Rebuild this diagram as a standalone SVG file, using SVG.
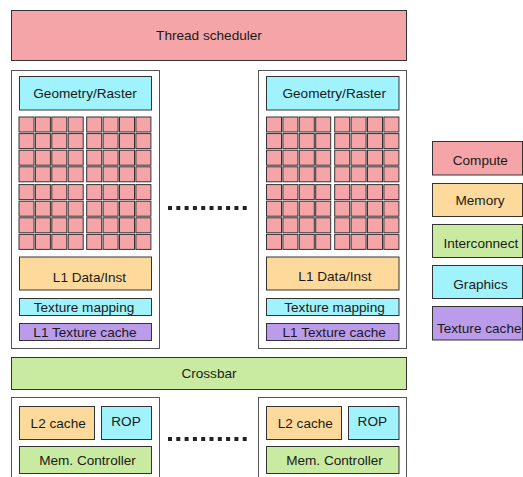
<svg xmlns="http://www.w3.org/2000/svg" xmlns:xlink="http://www.w3.org/1999/xlink" width="523" height="477" viewBox="0 0 523 477">
<style>
  text { font-family: "Liberation Sans", Arial, Helvetica, sans-serif; font-size: 13.6px; fill: #1a1a1a; text-anchor: middle; }
  rect { stroke: #333; stroke-width: 1; }
  .compute { fill: #F5A5A7; }
  .memory { fill: #FDDA9C; }
  .inter { fill: #C9EBA1; }
  .graphics { fill: #A0F3FC; }
  .texc { fill: #BA9CEB; }
  .outer { fill: #ffffff; stroke: #555; }
  .core { fill: #F5A5A7; stroke: #333; stroke-width: 1; }
  .dots { fill: none; stroke: #222; stroke-width: 4; stroke-dasharray: 4 4.3; }
</style>
<defs>
  <g id="quad">
    <rect class="core" x="0" y="0" width="15" height="15"/>
    <rect class="core" x="16.4" y="0" width="15" height="15"/>
    <rect class="core" x="32.8" y="0" width="15" height="15"/>
    <rect class="core" x="49.2" y="0" width="15" height="15"/>
    <rect class="core" x="0" y="16.6" width="15" height="15"/>
    <rect class="core" x="16.4" y="16.6" width="15" height="15"/>
    <rect class="core" x="32.8" y="16.6" width="15" height="15"/>
    <rect class="core" x="49.2" y="16.6" width="15" height="15"/>
    <rect class="core" x="0" y="33.2" width="15" height="15"/>
    <rect class="core" x="16.4" y="33.2" width="15" height="15"/>
    <rect class="core" x="32.8" y="33.2" width="15" height="15"/>
    <rect class="core" x="49.2" y="33.2" width="15" height="15"/>
    <rect class="core" x="0" y="49.8" width="15" height="15"/>
    <rect class="core" x="16.4" y="49.8" width="15" height="15"/>
    <rect class="core" x="32.8" y="49.8" width="15" height="15"/>
    <rect class="core" x="49.2" y="49.8" width="15" height="15"/>
  </g>
</defs>

<g id="thread-scheduler">
  <rect class="compute" x="11.5" y="10.5" width="395" height="50"/>
  <text x="209" y="39.8">Thread scheduler</text>
</g>

<g id="sm-left">
  <rect class="outer" x="11.5" y="70.5" width="148" height="278"/>
  <g id="geom-left">
    <rect class="graphics" x="19.5" y="76.5" width="132" height="33.5"/>
    <text x="85" y="97.8">Geometry/Raster</text>
  </g>
  <g id="cores-left">
    <use xlink:href="#quad" x="19" y="117"/>
    <use xlink:href="#quad" x="86.7" y="117"/>
    <use xlink:href="#quad" x="19" y="184.6"/>
    <use xlink:href="#quad" x="86.7" y="184.6"/>
  </g>
  <g id="l1-left">
    <rect class="memory" x="19.5" y="257" width="132" height="33"/>
    <text x="89.5" y="281.5">L1 Data/Inst</text>
  </g>
  <g id="texmap-left">
    <rect class="graphics" x="19.5" y="298.5" width="132" height="17"/>
    <text x="84" y="311.5">Texture mapping</text>
  </g>
  <g id="l1tex-left">
    <rect class="texc" x="19.5" y="323.5" width="132" height="17"/>
    <text x="85" y="336.6">L1 Texture cache</text>
  </g>
</g>

<g id="sm-right">
  <rect class="outer" x="258.5" y="70.5" width="148" height="278"/>
  <g id="geom-right">
    <rect class="graphics" x="266.5" y="76.5" width="132.5" height="33.5"/>
    <text x="334.2" y="97.8">Geometry/Raster</text>
  </g>
  <g id="cores-right">
    <use xlink:href="#quad" x="266.5" y="117"/>
    <use xlink:href="#quad" x="334.7" y="117"/>
    <use xlink:href="#quad" x="266.5" y="184.6"/>
    <use xlink:href="#quad" x="334.7" y="184.6"/>
  </g>
  <g id="l1-right">
    <rect class="memory" x="266.5" y="257" width="132.5" height="33"/>
    <text x="335" y="281">L1 Data/Inst</text>
  </g>
  <g id="texmap-right">
    <rect class="graphics" x="266.5" y="298.5" width="132.5" height="17"/>
    <text x="334.5" y="311.5">Texture mapping</text>
  </g>
  <g id="l1tex-right">
    <rect class="texc" x="266.5" y="323.5" width="132.5" height="17"/>
    <text x="334.2" y="336.6">L1 Texture cache</text>
  </g>
</g>

<g id="crossbar">
  <rect class="inter" x="11.5" y="357.5" width="395" height="32"/>
  <text x="209" y="378.3">Crossbar</text>
</g>

<g id="mem-left">
  <rect class="outer" x="11.5" y="397.5" width="148" height="85"/>
  <g id="l2-left">
    <rect class="memory" x="19.5" y="406.5" width="75" height="33"/>
    <text x="58.2" y="428.3">L2 cache</text>
  </g>
  <g id="rop-left">
    <rect class="graphics" x="101.5" y="406.5" width="50" height="33"/>
    <text x="126" y="426">ROP</text>
  </g>
  <g id="mc-left">
    <rect class="inter" x="19.5" y="446.5" width="132" height="27"/>
    <text x="87.5" y="465">Mem. Controller</text>
  </g>
</g>

<g id="mem-right">
  <rect class="outer" x="258.5" y="397.5" width="148" height="85"/>
  <g id="l2-right">
    <rect class="memory" x="266.5" y="406.5" width="75" height="33"/>
    <text x="305.3" y="428.3">L2 cache</text>
  </g>
  <g id="rop-right">
    <rect class="graphics" x="348.5" y="406.5" width="50.5" height="33"/>
    <text x="372.3" y="426">ROP</text>
  </g>
  <g id="mc-right">
    <rect class="inter" x="266.5" y="446.5" width="132.5" height="27"/>
    <text x="334.5" y="465">Mem. Controller</text>
  </g>
</g>

<g id="connectors">
  <line class="dots" x1="168" y1="208" x2="247" y2="208"/>
  <line class="dots" x1="168" y1="439" x2="247" y2="439"/>
</g>

<g id="legend">
  <g id="legend-compute">
    <rect class="compute" x="432.5" y="141.5" width="90" height="33.5"/>
    <text x="480.3" y="164.8">Compute</text>
  </g>
  <g id="legend-memory">
    <rect class="memory" x="432.5" y="183.5" width="90" height="33"/>
    <text x="480" y="205">Memory</text>
  </g>
  <g id="legend-interconnect">
    <rect class="inter" x="432.5" y="224.5" width="90" height="33"/>
    <text x="480.8" y="248.3">Interconnect</text>
  </g>
  <g id="legend-graphics">
    <rect class="graphics" x="432.5" y="265.5" width="90" height="33"/>
    <text x="480.5" y="288.5">Graphics</text>
  </g>
  <g id="legend-texture">
    <rect class="texc" x="432.5" y="306.5" width="90" height="33.5"/>
    <text x="479.2" y="333.3">Texture cache</text>
  </g>
</g>
</svg>
